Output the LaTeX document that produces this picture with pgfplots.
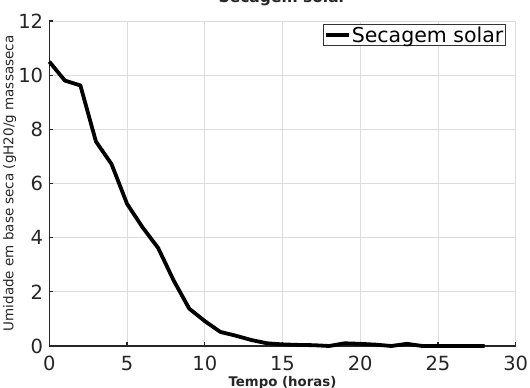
\documentclass[border=0pt]{standalone}
\usepackage{pgfplots}
\pgfplotsset{compat=1.18}
\usepackage{fontspec}
\setmainfont{DejaVu Sans}
\definecolor{txt}{HTML}{262626}
\definecolor{gridc}{HTML}{DDDDDD}
\begin{document}
\begin{tikzpicture}
\begin{axis}[
  scale only axis,
  width=466.4pt, height=325pt,
  xmin=0, xmax=30, ymin=0, ymax=12,
  xtick={0,5,...,30}, ytick={0,2,...,12},
  axis lines=left,
  axis line style={-, draw=black!85, line width=1.1pt},
  tick align=inside,
  major tick length=4pt,
  tick style={draw=black!85, line width=1.1pt},
  grid=major,
  major grid style={draw=gridc, line width=0.8pt},
  /pgf/number format/assume math mode=true,
  tick label style={font=\fontsize{19.5}{23}\selectfont, text=txt, inner sep=0pt},
  yticklabel style={xshift=-6pt},
  xticklabel style={yshift=-10pt},
  clip=false,
  title={Secagem solar},
  title style={at={(axis description cs:0.5,1.037)}, anchor=base, font=\bfseries\fontsize{15.5}{18}\selectfont, text=txt, inner sep=0pt},
  xlabel={Tempo (horas)},
  xlabel style={at={(axis description cs:0.5,-0.1246)}, anchor=base, font=\bfseries\fontsize{13.3}{16}\selectfont, text=txt, inner sep=0pt},
  ylabel={Umidade em base seca (gH20/g massaseca},
  ylabel style={at={(axis description cs:-0.0768,0.5)}, anchor=base, font=\fontsize{13.5}{16}\selectfont, text=txt, inner sep=0pt},
  legend style={at={(axis description cs:1,1)}, anchor=north east, xshift=-10pt, yshift=-3.3pt,
    font=\fontsize{20.5}{24}\selectfont, draw=black!80, line width=0.8pt, inner xsep=1pt, inner ysep=1pt,
    nodes={inner sep=1pt}},
  legend cell align=left,
  legend image code/.code={\draw[line width=3.5pt] (-2pt,0pt) -- (21pt,0pt);},
]
\addplot[black, line width=3.8pt, line join=round, line cap=butt] coordinates {
(0,10.5) (1,9.8) (2,9.62) (3,7.55) (4,6.72) (5,5.25) (6,4.38) (7,3.62) (8,2.42) (9,1.38)
(10,0.92) (11,0.52) (12,0.38) (13,0.22) (14,0.10) (15,0.06) (16,0.04) (17,0.03) (18,0.0)
(19,0.1) (20,0.08) (21,0.05) (22,0.0) (23,0.08) (24,0.0) (25,0.0) (26,0.0) (27,0.0) (28,0.0)
};
\addlegendentry{Secagem solar}
\end{axis}
\pgfresetboundingbox
\path ([xshift=-49.3pt,yshift=-42pt]current axis.south west) rectangle ([xshift=14.3pt,yshift=21pt]current axis.north east);
\end{tikzpicture}
\end{document}
